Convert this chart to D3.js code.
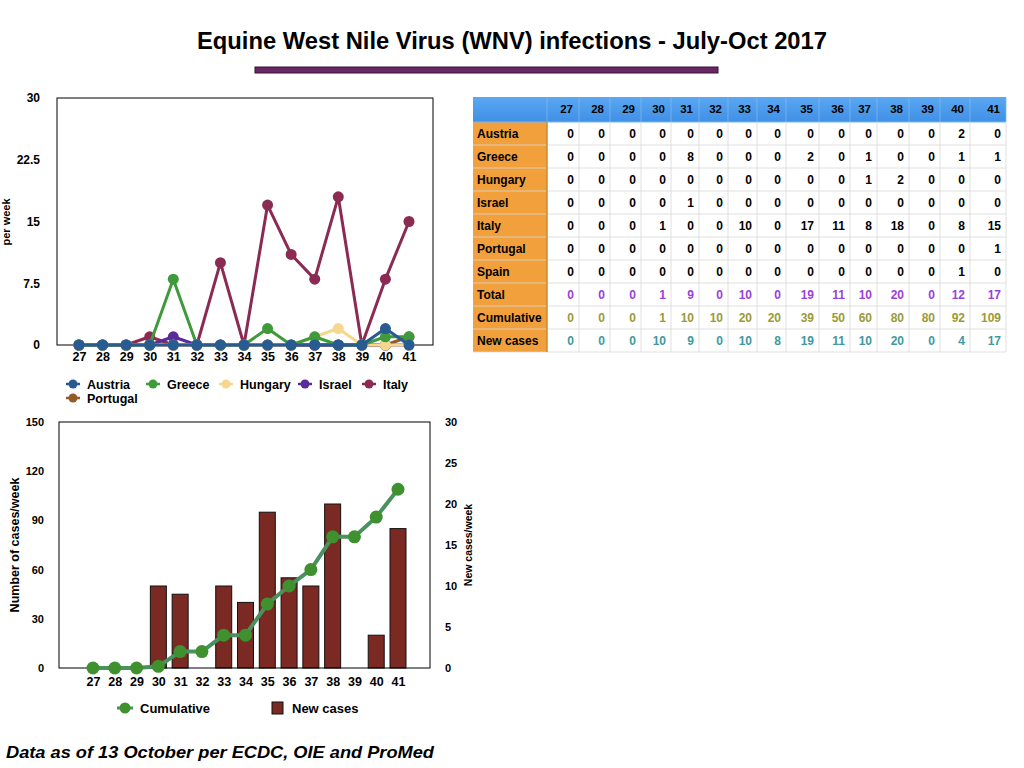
<!DOCTYPE html>
<html><head><meta charset="utf-8">
<script src="https://cdn.jsdelivr.net/npm/d3@7/dist/d3.min.js"></script>
<style>
body{margin:0;background:#fff;}
svg{display:block;font-family:"Liberation Sans",Arial,Helvetica,sans-serif;}
</style></head>
<body>
<svg id="c" width="1024" height="768"></svg>
<script>
// ---------- DATA ----------
const weeks = [27,28,29,30,31,32,33,34,35,36,37,38,39,40,41];
const countries = ["Austria","Greece","Hungary","Israel","Italy","Portugal","Spain"];
const austria  = [0,0,0,0,0,0,0,0,0,0,0,0,0,2,0];
const greece   = [0,0,0,0,8,0,0,0,2,0,1,0,0,1,1];
const hungary  = [0,0,0,0,0,0,0,0,0,0,1,2,0,0,0];
const israel   = [0,0,0,0,1,0,0,0,0,0,0,0,0,0,0];
const italy    = [0,0,0,1,0,0,10,0,17,11,8,18,0,8,15];
const portugal = [0,0,0,0,0,0,0,0,0,0,0,0,0,0,1];
const spain    = [0,0,0,0,0,0,0,0,0,0,0,0,0,1,0];
const total      = [0,0,0,1,9,0,10,0,19,11,10,20,0,12,17];
const cumulative = [0,0,0,1,10,10,20,20,39,50,60,80,80,92,109];
const newCases   = [0,0,0,10,9,0,10,8,19,11,10,20,0,4,17];
const topTicks = [0,7.5,15,22.5,30];
const leftTicks = [0,30,60,90,120,150];
const rightTicks = [0,5,10,15,20,25,30];
const plottedCountries = ["Austria","Greece","Hungary","Israel","Italy","Portugal"];
const countryValues = {Austria:austria,Greece:greece,Hungary:hungary,Israel:israel,Italy:italy,Portugal:portugal,Spain:spain};

// ---------- STYLE / LAYOUT ----------
const colors = {Austria:"#275b91",Greece:"#3f9a3c",Hungary:"#f7d68e",Israel:"#5b2b97",Italy:"#8b2a52",Portugal:"#935c26"};
const FONT_B = "bold";
const svg = d3.select("#c");

// Title
svg.append("text").attr("x",512).attr("y",49).attr("text-anchor","middle")
  .attr("font-size",24).attr("font-weight",FONT_B)
  .attr("textLength",630).attr("lengthAdjust","spacingAndGlyphs")
  .text("Equine West Nile Virus (WNV) infections - July-Oct 2017");
svg.append("rect").attr("x",255).attr("y",67).attr("width",463).attr("height",6)
  .attr("fill","#6c2468").attr("stroke","#2a1a2a").attr("stroke-width",1);

// ---------- TOP CHART ----------
{
  const L=57,R=433,T=98,B=345;
  const x = d3.scalePoint().domain(weeks).range([79,409]);
  const y = d3.scaleLinear().domain([0,30]).range([B,T]);
  const g = svg.append("g");
  g.append("rect").attr("x",L).attr("y",T).attr("width",R-L).attr("height",B-T)
    .attr("fill","none").attr("stroke","#000").attr("stroke-width",1);
  const ya = g.append("g").attr("transform",`translate(${L-14},0)`)
    .call(d3.axisLeft(y).tickValues(topTicks).tickSize(0).tickFormat(d=>d));
  ya.select(".domain").remove();
  ya.selectAll("text").attr("font-size",12).attr("font-weight",FONT_B).attr("fill","#000").attr("font-family","Liberation Sans, Arial");
  const xa = g.append("g").attr("transform",`translate(0,${B+4})`)
    .call(d3.axisBottom(x).tickSize(0));
  xa.select(".domain").remove();
  xa.selectAll("text").attr("font-size",12.5).attr("font-weight",FONT_B).attr("fill","#000").attr("font-family","Liberation Sans, Arial");
  svg.append("text").attr("transform",`translate(10,222) rotate(-90)`).attr("text-anchor","middle")
    .attr("font-size",11).attr("font-weight",FONT_B).text("per week");

  const line = d3.line().x((d,i)=>x(weeks[i])).y(d=>y(d));
  const order = plottedCountries.slice().reverse();
  order.forEach(c=>{
    const vals = countryValues[c];
    g.append("path").attr("d",line(vals)).attr("fill","none")
      .attr("stroke",colors[c]).attr("stroke-width",3).attr("stroke-linejoin","round");
    g.selectAll(null).data(vals).enter().append("circle")
      .attr("cx",(d,i)=>x(weeks[i])).attr("cy",d=>y(d)).attr("r",5.5).attr("fill",colors[c]);
  });

  // legend
  const legPos = [[73,384],[153,384],[226,384],[305,384],[369,384],[73,398]];
  plottedCountries.forEach((c,i)=>{
    const [lx,ly]=legPos[i];
    svg.append("line").attr("x1",lx-7).attr("x2",lx+7).attr("y1",ly).attr("y2",ly)
      .attr("stroke",colors[c]).attr("stroke-width",2.5);
    svg.append("circle").attr("cx",lx).attr("cy",ly).attr("r",4.5).attr("fill",colors[c]);
    svg.append("text").attr("x",lx+14).attr("y",ly+4.5).attr("font-size",12.5)
      .attr("font-weight",FONT_B).text(c);
  });
}

// ---------- TABLE ----------
{
  const colEdges = [473,547,579,610,641,671,699,728,757,786,819,850,877,909,940,970,1006];
  const headT=97, headH=25, rowH=23;
  const rows = [
    {label:"Austria",vals:austria,color:"#000"},
    {label:"Greece",vals:greece,color:"#000"},
    {label:"Hungary",vals:hungary,color:"#000"},
    {label:"Israel",vals:israel,color:"#000"},
    {label:"Italy",vals:italy,color:"#000"},
    {label:"Portugal",vals:portugal,color:"#000"},
    {label:"Spain",vals:spain,color:"#000"},
    {label:"Total",vals:total,color:"#9a40dc"},
    {label:"Cumulative",vals:cumulative,color:"#9c9a38"},
    {label:"New cases",vals:newCases,color:"#3e9aa0"}
  ];
  const tg = svg.append("g");
  const defs = svg.append("defs");
  const gr = defs.append("linearGradient").attr("id","hdr").attr("x1",0).attr("x2",0).attr("y1",0).attr("y2",1);
  gr.append("stop").attr("offset","0%").attr("stop-color","#5aa8f2");
  gr.append("stop").attr("offset","100%").attr("stop-color","#3f8fe6");
  const W = colEdges[colEdges.length-1]-colEdges[0];
  tg.append("rect").attr("x",colEdges[0]).attr("y",headT).attr("width",W).attr("height",headH).attr("fill","url(#hdr)");
  const bodyT = headT+headH;
  tg.append("rect").attr("x",colEdges[0]).attr("y",bodyT).attr("width",colEdges[1]-colEdges[0])
    .attr("height",rowH*rows.length).attr("fill","#f1a03c");
  // grid
  for(let i=0;i<=rows.length;i++){
    tg.append("line").attr("x1",colEdges[0]).attr("x2",colEdges[colEdges.length-1])
      .attr("y1",bodyT+i*rowH).attr("y2",bodyT+i*rowH)
      .attr("stroke", i===0? "#7db7ee":"#d8d8d8").attr("stroke-width",i===0?1:0.8);
  }
  colEdges.forEach((cx,i)=>{
    if(i===0) return;
    tg.append("line").attr("x1",cx).attr("x2",cx).attr("y1",headT).attr("y2",bodyT)
      .attr("stroke","#7db7ee").attr("stroke-width",0.8);
    tg.append("line").attr("x1",cx).attr("x2",cx).attr("y1",bodyT).attr("y2",bodyT+rowH*rows.length)
      .attr("stroke", i===1? "#c98a30":"#d8d8d8").attr("stroke-width",i===1?1.5:0.8);
  });
  weeks.forEach((w,j)=>{
    tg.append("text").attr("x",colEdges[j+2]-6).attr("y",headT+16).attr("text-anchor","end")
      .attr("font-size",11.5).attr("font-weight",FONT_B).text(w);
  });
  rows.forEach((r,i)=>{
    const yy = bodyT+i*rowH+15.5;
    tg.append("text").attr("x",colEdges[0]+4).attr("y",yy).attr("font-size",12)
      .attr("font-weight",FONT_B).text(r.label);
    r.vals.forEach((v,j)=>{
      tg.append("text").attr("x",colEdges[j+2]-5).attr("y",yy).attr("text-anchor","end")
        .attr("font-size",12).attr("font-weight",FONT_B).attr("fill",r.color).text(v);
    });
  });
}

// ---------- BOTTOM CHART ----------
{
  const L=59,R=430,T=422,B=668;
  const x = d3.scalePoint().domain(weeks).range([93,398]);
  const yL = d3.scaleLinear().domain([0,150]).range([B,T]);
  const yR = d3.scaleLinear().domain([0,30]).range([B,T]);
  const g = svg.append("g");
  const bw = 16;
  g.selectAll(null).data(newCases).enter().filter(d=>d>0).append("rect")
    .attr("x",(d,i)=>0).attr("fill","#7a2a22");
  g.selectAll("rect").remove();
  newCases.forEach((v,i)=>{
    if(v<=0) return;
    g.append("rect").attr("x",x(weeks[i])-bw/2).attr("y",yR(v)).attr("width",bw).attr("height",B-yR(v))
      .attr("fill","#7a2a22").attr("stroke","#111").attr("stroke-width",1);
  });
  g.append("rect").attr("x",L).attr("y",T).attr("width",R-L).attr("height",B-T)
    .attr("fill","none").attr("stroke","#000").attr("stroke-width",1);
  const la = g.append("g").attr("transform",`translate(${L-12},0)`)
    .call(d3.axisLeft(yL).tickValues(leftTicks).tickSize(0));
  la.select(".domain").remove();
  la.selectAll("text").attr("font-size",11).attr("font-weight",FONT_B).attr("fill","#000").attr("font-family","Liberation Sans, Arial");
  const ra = g.append("g").attr("transform",`translate(${R+12},0)`)
    .call(d3.axisRight(yR).tickValues(rightTicks).tickSize(0));
  ra.select(".domain").remove();
  ra.selectAll("text").attr("font-size",11).attr("font-weight",FONT_B).attr("fill","#000").attr("font-family","Liberation Sans, Arial");
  const xa = g.append("g").attr("transform",`translate(0,${B+6})`)
    .call(d3.axisBottom(x).tickSize(0));
  xa.select(".domain").remove();
  xa.selectAll("text").attr("font-size",12.5).attr("font-weight",FONT_B).attr("fill","#000").attr("font-family","Liberation Sans, Arial");
  svg.append("text").attr("transform",`translate(19,545) rotate(-90)`).attr("text-anchor","middle")
    .attr("font-size",12.5).attr("font-weight",FONT_B).text("Number of cases/week");
  svg.append("text").attr("transform",`translate(472,545) rotate(-90)`).attr("text-anchor","middle")
    .attr("font-size",10.5).attr("font-weight",FONT_B).text("New cases/week");

  const line = d3.line().x((d,i)=>x(weeks[i])).y(d=>yL(d));
  g.append("path").attr("d",line(cumulative)).attr("fill","none").attr("stroke","#4b9160")
    .attr("stroke-width",4).attr("stroke-linejoin","round");
  g.selectAll(null).data(cumulative).enter().append("circle")
    .attr("cx",(d,i)=>x(weeks[i])).attr("cy",d=>yL(d)).attr("r",6.5).attr("fill","#3f902f");

  // legend
  svg.append("line").attr("x1",117).attr("x2",133).attr("y1",708).attr("y2",708).attr("stroke","#4b9160").attr("stroke-width",3);
  svg.append("circle").attr("cx",125).attr("cy",708).attr("r",5.5).attr("fill","#3f902f");
  svg.append("text").attr("x",140).attr("y",713).attr("font-size",13).attr("font-weight",FONT_B).text("Cumulative");
  svg.append("rect").attr("x",272).attr("y",702).attr("width",11).attr("height",12).attr("fill","#7a2a22").attr("stroke","#111").attr("stroke-width",1);
  svg.append("text").attr("x",292).attr("y",713).attr("font-size",13).attr("font-weight",FONT_B).text("New cases");
}

// Footnote
svg.append("text").attr("x",6).attr("y",758).attr("font-size",17).attr("font-weight","bold")
  .attr("font-style","italic").attr("textLength",428).attr("lengthAdjust","spacingAndGlyphs")
  .text("Data as of 13 October per ECDC, OIE and ProMed");
</script>
</body></html>
